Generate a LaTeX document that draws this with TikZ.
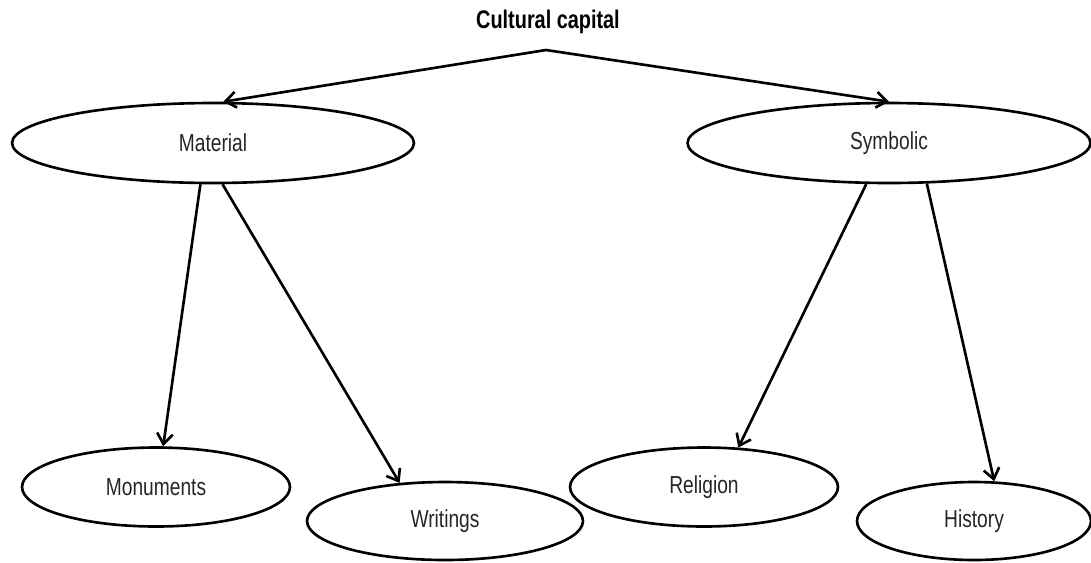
\documentclass[tikz,border=0pt]{standalone}
\usepackage{fontspec}
\setmainfont{Liberation Sans}[FakeStretch=0.78]
\usetikzlibrary{shapes.geometric,arrows.meta}
\begin{document}
	\begin{tikzpicture}[x=0.02cm, y=-0.02cm, line width=1.5pt,
		blob/.style={draw, ellipse, inner sep=0pt, text=black!85, font=\fontsize{14}{16}\selectfont},
		link/.style={-{Straight Barb[length=6pt, width=9pt, line width=1.5pt]}}]
		\useasboundingbox (0,0) rectangle (1091,562);
		
		\node [font=\bfseries\fontsize{14.5}{16}\selectfont] (title) at (548,22) {Cultural capital};
		\coordinate (top) at (546,50);
		
		\node [blob, minimum width=8.04cm, minimum height=1.6cm] (mat) at (213,143) {Material};
		\node [blob, minimum width=8.06cm, minimum height=1.6cm] (sym) at (889,143) {Symbolic};
		
		\node [blob, minimum width=5.36cm, minimum height=1.58cm] (mon) at (156,487) {Monuments};
		\node [blob, minimum width=5.52cm, minimum height=1.56cm] (wri) at (445,521) {Writings};
		\node [blob, minimum width=5.36cm, minimum height=1.58cm] (rel) at (704,487) {Religion};
		\node [blob, minimum width=4.68cm, minimum height=1.56cm] (his) at (974,521) {History};
		
		\draw [link] (top) -- (mat.76);
		\draw [link] (top) -- (sym.north);
		\draw [link] (mat.-107) -- (mon.80);
		\draw [link] (mat.-77) -- (wri.140);
		\draw [link] (sym.-119) -- (rel.49);
		\draw [link] (sym.-47) -- (his.63);
	\end{tikzpicture}
\end{document}
